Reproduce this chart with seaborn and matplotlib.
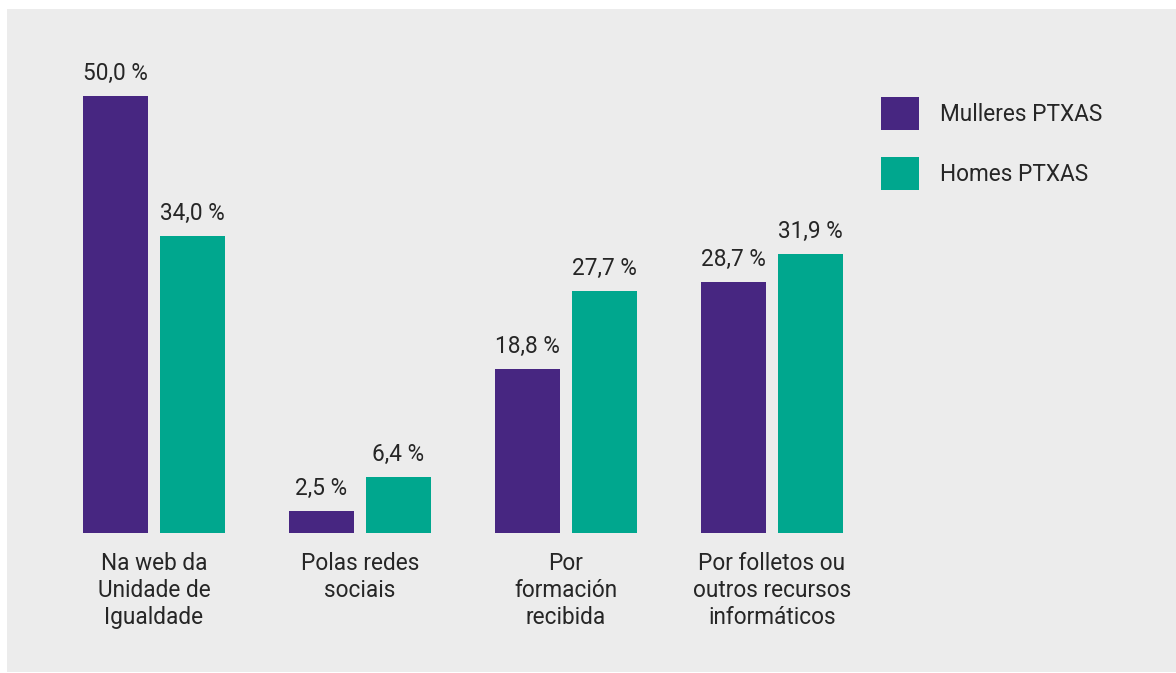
import matplotlib
matplotlib.use("Agg")
import matplotlib.pyplot as plt
from matplotlib.patches import Rectangle
import pandas as pd
import seaborn as sns

categories = ["Na web da\nUnidade de\nIgualdade", "Polas redes\nsociais",
              "Por\nformación\nrecibida", "Por folletos ou\noutros recursos\ninformáticos"]
series_names = ["Mulleres PTXAS", "Homes PTXAS"]
mulleres = [50.0, 2.5, 18.8, 28.7]
homes = [34.0, 6.4, 27.7, 31.9]
colors = ["#472681", "#00a78e"]

df = pd.DataFrame({
    "categoria": categories * 2,
    "grupo": [series_names[0]] * 4 + [series_names[1]] * 4,
    "valor": mulleres + homes,
})

sns.set_theme(style="white")
plt.rcParams["font.family"] = ["Roboto", "DejaVu Sans"]

W, H = 1176, 673
fig = plt.figure(figsize=(W / 100, H / 100), dpi=100, facecolor="white")
# grey panel behind the chart
fig.patches.append(Rectangle((7 / W, 1 / H), 1, 1 - 10 / H, transform=fig.transFigure,
                             facecolor="#ececec", edgecolor="none", zorder=-10))

ax = fig.add_axes([51 / W, 1 - 533 / H, (875 - 51) / W, (533 - 52) / H])
ax.set_facecolor("none")

sns.barplot(data=df, x="categoria", y="valor", hue="grupo", hue_order=series_names,
            palette=colors, width=0.748, gap=0.156, linewidth=0, saturation=1,
            ax=ax)

txt = "#262626"
fs = 16.3
for cont in ax.containers:
    ax.bar_label(cont, labels=[f"{v:.1f}".replace(".", ",") + " %" for v in cont.datavalues],
                 padding=8, fontsize=fs, color=txt)

ax.set_xlim(-0.5, 3.5)
ax.set_ylim(0, 55)
ax.set_xlabel("")
ax.set_ylabel("")
ax.set_yticks([])
ax.tick_params(axis="x", length=0, pad=14, labelsize=fs, colors=txt)
for lbl in ax.get_xticklabels():
    lbl.set_linespacing(1.2)
sns.despine(ax=ax, left=True, bottom=True)

handles, labels = ax.get_legend_handles_labels()
ax.legend(handles, labels, loc="upper left", bbox_to_anchor=(881 / W, 1 - 97 / H),
          bbox_transform=fig.transFigure, frameon=False, fontsize=fs,
          handlelength=1.68, handleheight=1.87, labelspacing=1.19,
          handletextpad=0.93, borderpad=0, borderaxespad=0, labelcolor=txt)

fig.savefig("out.png", dpi=100, facecolor="white")
